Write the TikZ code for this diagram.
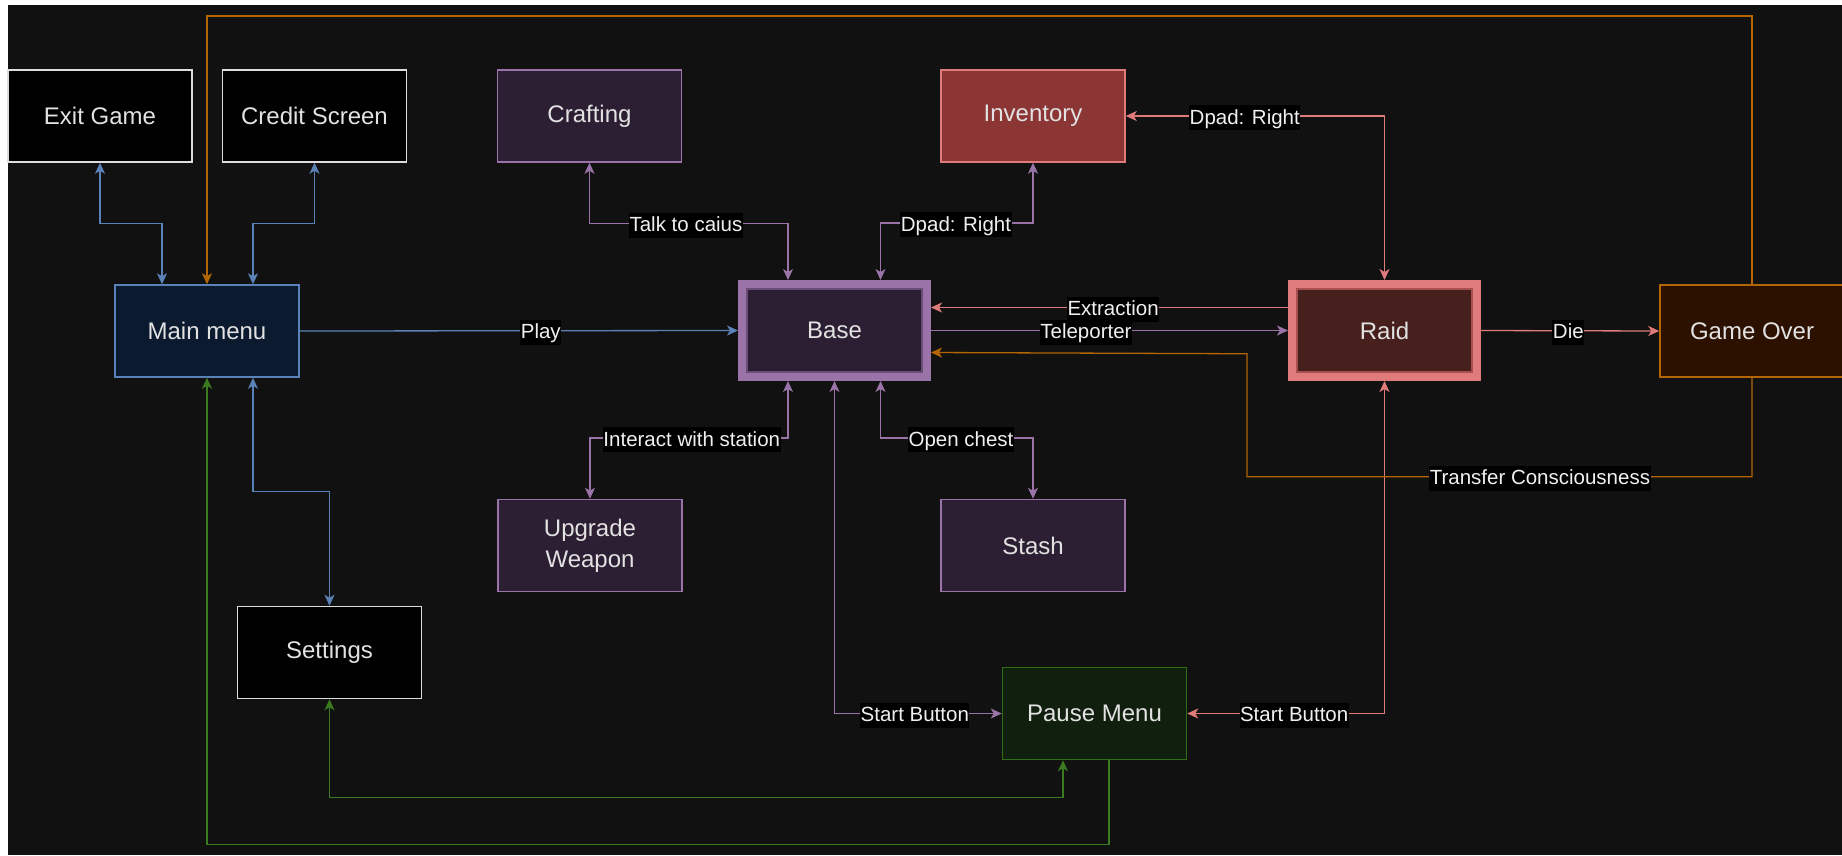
\documentclass[tikz,border=0pt]{standalone}
\usepackage{fontspec}
\setmainfont{Liberation Sans}
\usetikzlibrary{arrows.meta,calc}
\definecolor{bgc}{HTML}{111111}
\definecolor{ntxt}{HTML}{E2E2E2}
\definecolor{ltxt}{HTML}{F0F0F0}
\definecolor{wstroke}{HTML}{DDDDDD}
\definecolor{bluee}{HTML}{5A82B6}
\definecolor{mfill}{HTML}{0C1A2F}
\definecolor{purp}{HTML}{9A74A8}
\definecolor{pfill}{HTML}{2D1F33}
\definecolor{pinner}{HTML}{6B4E78}
\definecolor{salm}{HTML}{E07B7B}
\definecolor{invfill}{HTML}{8B3535}
\definecolor{raidfill}{HTML}{471F1C}
\definecolor{raidinner}{HTML}{A84F4F}
\definecolor{orng}{HTML}{B46504}
\definecolor{gofill}{HTML}{2D1100}
\definecolor{grn}{HTML}{3B7A1F}
\definecolor{pausefill}{HTML}{111F0E}
\definecolor{pausestroke}{HTML}{2F6E17}
\begin{document}
\begin{tikzpicture}[x=1pt,y=-1pt,
  >={Stealth[length=11pt,width=10pt,inset=3pt]},
  box/.style={rectangle, minimum width=184pt, minimum height=92pt, inner sep=0pt,
    line width=1.5pt, text=ntxt, font=\fontsize{24}{31}\selectfont},
  wbox/.style={box, draw=wstroke, fill=black},
  mbox/.style={box, draw=bluee, fill=mfill},
  pbox/.style={box, draw=purp, fill=pfill},
  ibox/.style={box, draw=salm, fill=invfill},
  gbox/.style={box, draw=orng, fill=gofill},
  pausebox/.style={box, draw=pausestroke, fill=pausefill},
  thickbox/.style={box, line width=9pt},
  basebox/.style={thickbox, draw=purp, fill=pfill},
  raidbox/.style={thickbox, draw=salm, fill=raidfill},
  edge/.style={line width=1.3pt},
  eblue/.style={edge, draw=bluee},
  epurp/.style={edge, draw=purp},
  esalm/.style={edge, draw=salm},
  eorng/.style={edge, draw=orng},
  egrn/.style={edge, draw=grn},
  lbl/.style={fill=black, text=ltxt, font=\fontsize{20.5}{22}\selectfont,
    inner xsep=0.5pt, inner ysep=2.5pt, text height=16.5pt, text depth=3.5pt,
    yshift=-1.5pt}
]
\useasboundingbox (0,0) rectangle (1842,855);
\fill[white] (0,0) rectangle (1842,855);
\fill[bgc] (8,5) rectangle (1842,855);

% nodes
\node[wbox] (exit) at (100,116) {Exit Game};
\node[wbox] (credit) at (314.5,116) {Credit Screen};
\node[mbox] (main) at (207,331) {Main menu};
\node[pbox] (craft) at (589.5,116) {Crafting};
\node[ibox] (inv) at (1033,116) {Inventory};
\node[basebox] (base) at (834.5,330.5) {Base};
\node[raidbox] (raid) at (1384.5,330.5) {Raid};
\node[gbox] (go) at (1752,331) {Game Over};
\node[pbox, align=center] (upg) at (590,545.5) {Upgrade\\Weapon};
\node[pbox] (stash) at (1033,545.5) {Stash};
\node[wbox] (set) at (329.5,652.5) {Settings};
\node[pausebox] (pause) at (1094.5,713.5) {Pause Menu};

% inner outlines of the thick boxes
\draw[pinner, line width=1.2pt] ($(base.north west)+(9,9)$) rectangle ($(base.south east)+(-9,-9)$);
\draw[raidinner, line width=1.2pt] ($(raid.north west)+(9,9)$) rectangle ($(raid.south east)+(-9,-9)$);

% main menu connectors
\draw[eblue,<->] (exit.south) -- ++(0,61) -| ($(main.north)+(-45,0)$);
\draw[eblue,<->] (credit.south) -- ++(0,61) -| ($(main.north)+(46,0)$);
\draw[eorng,->] (go.north) -- ++(0,-268.4) -| (main.north);
\draw[eblue,->] (main.east) -- node[lbl,pos=0.55]{Play} (base.west);
\draw[eblue,<->] ($(main.south)+(46,0)$) -- ++(0,114) -| (set.north);

% base connectors
\draw[epurp,<->] (craft.south) -- ++(0,61) -| node[lbl,pos=0.243]{Talk to caius} ($(base.north)+(-46.5,0)$);
\draw[epurp,<->] ($(base.north)+(46,0)$) -- ++(0,-57) -| node[lbl,pos=0.2475]{Dpad: Right} (inv.south);
\draw[epurp,<->] ($(base.south)+(-46.5,0)$) -- ++(0,57) -| node[lbl,pos=0.243]{Interact with station} (upg.north);
\draw[epurp,<->] ($(base.south)+(46,0)$) -- ++(0,57) -| node[lbl,pos=0.264]{Open chest} (stash.north);
\draw[epurp,<->] (base.south) |- node[lbl,pos=0.74]{Start Button} (pause.west);
\draw[epurp,->] (base.east) -- node[lbl,pos=0.434]{Teleporter} (raid.west);

% raid connectors
\draw[esalm,<->] (raid.north) |- node[lbl,pos=0.77]{Dpad: Right} (inv.east);
\draw[esalm,->] ($(raid.west)+(0,-23)$) -- node[lbl,pos=0.49]{Extraction} ($(base.east)+(0,-23)$);
\draw[esalm,->] (raid.east) -- node[lbl,pos=0.49]{Die} (go.west);
\draw[esalm,<->] (raid.south) |- node[lbl,pos=0.729]{Start Button} (pause.east);
\draw[eorng,->] (go.south) -- ++(0,99) -| node[lbl,pos=0.21]{Transfer Consciousness} ++(-505,-123) -- ($(base.east)+(0,22)$);

% pause menu connectors
\draw[egrn,<->] (set.south) -- ++(0,98) -| ($(pause.south)+(-31.5,0)$);
\draw[egrn,->] ($(pause.south)+(14.5,0)$) -- ++(0,84) -| (main.south);
\end{tikzpicture}
\end{document}
